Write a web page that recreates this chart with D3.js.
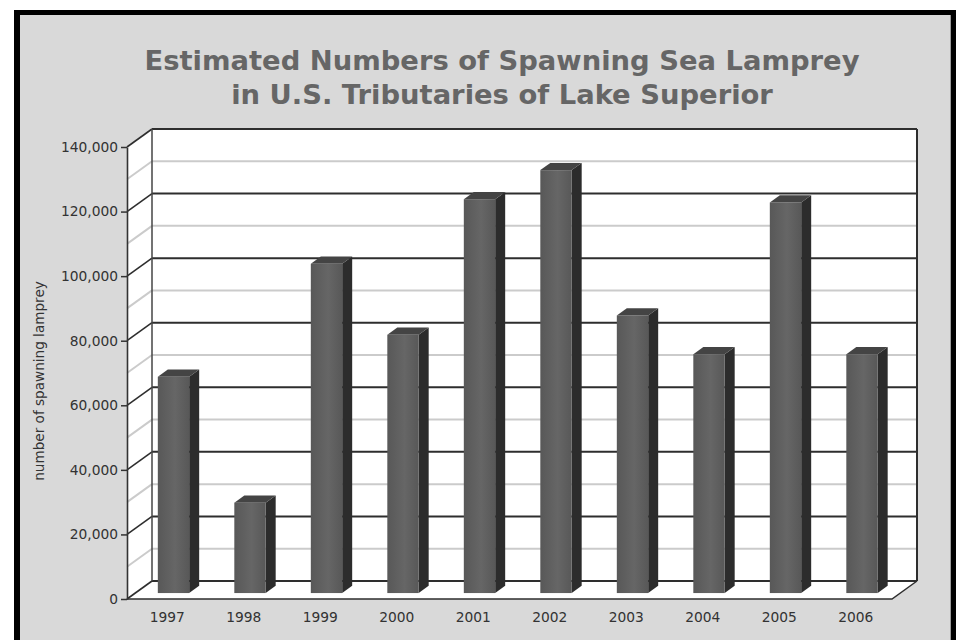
<!DOCTYPE html>
<html><head><meta charset="utf-8">
<script src="https://cdn.jsdelivr.net/npm/d3@7"></script>
<style>html,body{margin:0;padding:0;background:#fff;}svg{display:block;}</style>
</head><body>
<svg id="chart" width="980" height="640"></svg>
<script>
const years = ["1997","1998","1999","2000","2001","2002","2003","2004","2005","2006"];
const lamprey = [67000,28000,102000,80000,122000,131000,86000,74000,121000,74000];
const yTicks = [0,20000,40000,60000,80000,100000,120000,140000];
const minorTicks = [10000,30000,50000,70000,90000,110000,130000];
const titleLines = ["Estimated Numbers of Spawning Sea Lamprey","in U.S. Tributaries of Lake Superior"];
const yTitle = "number of spawning lamprey";

const svg = d3.select("#chart");
const W = 980, H = 640;
const FONT = "'DejaVu Sans', Verdana, sans-serif";

// frame
svg.append("rect").attr("x",0).attr("y",0).attr("width",W).attr("height",H).attr("fill","#fff");
svg.append("rect").attr("x",14).attr("y",10).attr("width",942).attr("height",640).attr("fill","#000");
svg.append("rect").attr("x",20).attr("y",15).attr("width",931).attr("height",630).attr("fill","#d9d9d9");
svg.append("line").attr("x1",950.5).attr("x2",950.5).attr("y1",15).attr("y2",640).attr("stroke","#9a9a9a");

// geometry
const x0 = 127, x1 = 892;
const DX = 25, DY = -18;
const y = d3.scaleLinear().domain([0,140000]).range([599,147]);
const x = d3.scaleBand().domain(years).range([x0,x1]).paddingInner(0.59).paddingOuter(0.295);
const off = z => [z*DX, z*DY];

const g = svg.append("g");
const yMax = 140000;

// back wall
g.append("rect").attr("x",x0+DX).attr("y",y(yMax)+DY).attr("width",x1-x0).attr("height",y(0)-y(yMax))
  .attr("fill","#fff");
// side wall
g.append("path").attr("fill","#fff")
  .attr("d",`M${x0},${y(0)}L${x0+DX},${y(0)+DY}L${x0+DX},${y(yMax)+DY}L${x0},${y(yMax)}Z`);
// floor
g.append("path").attr("fill","#fff")
  .attr("d",`M${x0},${y(0)}L${x1},${y(0)}L${x1+DX},${y(0)+DY}L${x0+DX},${y(0)+DY}Z`);

// minor gridlines
minorTicks.forEach(t=>{
  const yy = y(t);
  g.append("line").attr("x1",x0+DX).attr("x2",x1+DX).attr("y1",yy+DY).attr("y2",yy+DY)
    .attr("stroke","#cbcbcb").attr("stroke-width",2);
  g.append("line").attr("x1",x0).attr("x2",x0+DX).attr("y1",yy).attr("y2",yy+DY)
    .attr("stroke","#cbcbcb").attr("stroke-width",2);
});
// major gridlines
yTicks.forEach(t=>{
  const yy = y(t);
  g.append("line").attr("x1",x0+DX).attr("x2",x1+DX).attr("y1",yy+DY).attr("y2",yy+DY)
    .attr("stroke","#2e2e2e").attr("stroke-width",2);
  g.append("line").attr("x1",x0).attr("x2",x0+DX).attr("y1",yy).attr("y2",yy+DY)
    .attr("stroke","#2e2e2e").attr("stroke-width",1.6);
});
// wall edges
g.append("line").attr("x1",x0+DX).attr("x2",x0+DX).attr("y1",y(0)+DY).attr("y2",y(yMax)+DY)
  .attr("stroke","#444").attr("stroke-width",1.5);
g.append("line").attr("x1",x1+DX).attr("x2",x1+DX).attr("y1",y(0)+DY).attr("y2",y(yMax)+DY)
  .attr("stroke","#2e2e2e").attr("stroke-width",2);
// floor outline
g.append("path").attr("fill","none").attr("stroke","#2e2e2e").attr("stroke-width",1.5)
  .attr("d",`M${x0},${y(0)}L${x1},${y(0)}L${x1+DX},${y(0)+DY}`);

// bars
const z0 = 0.33, z1 = 0.73;
const defs = svg.append("defs");
const grad = defs.append("linearGradient").attr("id","barFront").attr("x1","0").attr("x2","1").attr("y1","0").attr("y2","0");
grad.append("stop").attr("offset","0").attr("stop-color","#585858");
grad.append("stop").attr("offset","0.55").attr("stop-color","#666");
grad.append("stop").attr("offset","1").attr("stop-color","#585858");

const bars = g.append("g").selectAll("g").data(years.map((yr,i)=>({yr,v:lamprey[i]}))).join("g");
bars.each(function(d){
  const sel = d3.select(this);
  const [ax,ay] = off(z0), [bx,by] = off(z1);
  const xl = x(d.yr)+ax, xr = x(d.yr)+x.bandwidth()+ax;
  const yb = y(0)+ay, yt = y(d.v)+ay;
  const ddx = bx-ax, ddy = by-ay;
  // side
  sel.append("path").attr("fill","#2c2c2c")
    .attr("d",`M${xr},${yb}L${xr+ddx},${yb+ddy}L${xr+ddx},${yt+ddy}L${xr},${yt}Z`);
  // top
  sel.append("path").attr("fill","#444")
    .attr("d",`M${xl},${yt}L${xl+ddx},${yt+ddy}L${xr+ddx},${yt+ddy}L${xr},${yt}Z`);
  // front
  sel.append("rect").attr("x",xl).attr("y",yt).attr("width",xr-xl).attr("height",yb-yt)
    .attr("fill","url(#barFront)");
});

// y axis
const yAxis = d3.axisLeft(y).tickValues(yTicks).tickFormat(d3.format(",")).tickSize(6).tickSizeOuter(0);
const ya = svg.append("g").attr("transform",`translate(${x0},0)`).call(yAxis);
ya.select(".domain").attr("stroke","#333").attr("stroke-width",1.6);
ya.selectAll(".tick line").attr("stroke","#333").attr("stroke-width",1.5);
ya.selectAll(".tick text").attr("font-family",FONT).attr("font-size",13.8).attr("fill","#333").attr("x",-9);

// x axis labels
const xAxis = d3.axisBottom(x).tickSize(0);
const xa = svg.append("g").attr("transform",`translate(2,${y(0)+10})`).call(xAxis);
xa.select(".domain").remove();
xa.selectAll(".tick text").attr("font-family",FONT).attr("font-size",13.8).attr("fill","#333");

// y title
svg.append("text").attr("transform",`translate(44,${(y(0)+y(yMax))/2 + 8}) rotate(-90)`)
  .attr("text-anchor","middle").attr("font-family",FONT).attr("font-size",13.6).attr("fill","#333")
  .text(yTitle);

// title
svg.append("g").selectAll("text").data(titleLines).join("text")
  .attr("x",502).attr("y",(d,i)=>70+i*34).attr("text-anchor","middle")
  .attr("font-family",FONT).attr("font-weight","bold").attr("font-size",27.4).attr("fill","#666")
  .text(d=>d);
</script>
</body></html>
